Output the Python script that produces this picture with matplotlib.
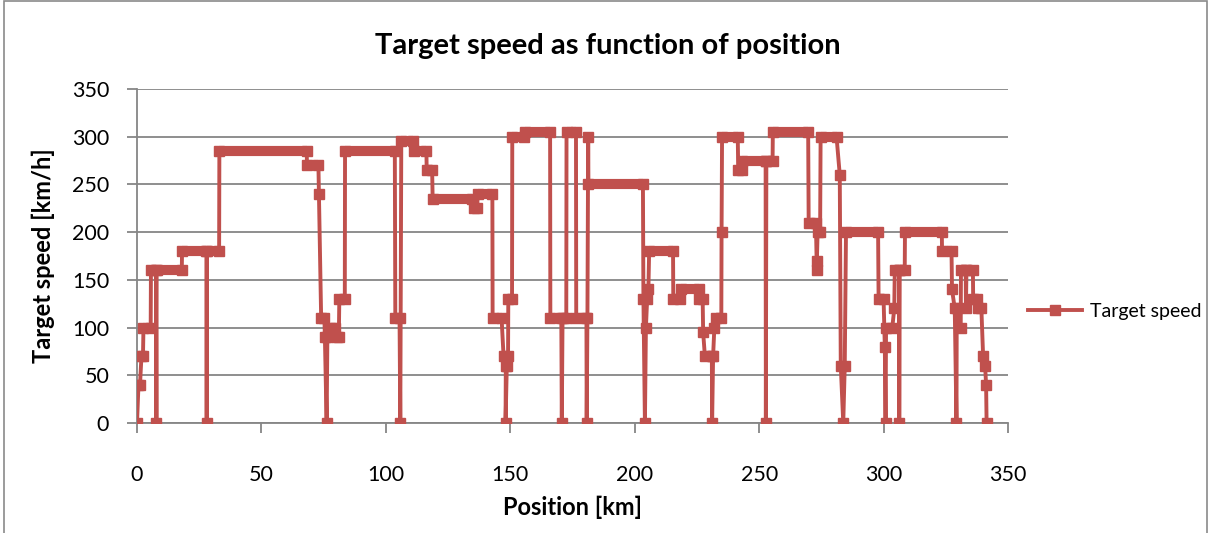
import numpy as np
import matplotlib
matplotlib.use("Agg")
import matplotlib.pyplot as plt
from matplotlib.patches import Rectangle

# Target speed profile (position in km, speed in km/h)
position_km = [
    0, 0.6, 1.2, 1.8, 2.4, 2.6, 5.5, 5.6, 7.6, 7.8, 7.9, 18, 18.1, 27.9, 28, 28.1, 33, 33.1,
    68.2, 68.3, 72.9, 73.1, 74, 75.3, 75.5, 76.2, 76.5, 78, 79.5, 80.5, 81.1, 81.3, 83.5, 83.6,
    103.6, 103.8, 105.5, 105.8, 106.2, 111.1, 111.2, 116.3, 116.4, 118.6, 118.8, 134.8, 135.6,
    136.6, 137, 142.8, 142.9, 146.5, 147.3, 148.2, 148.1, 148.6, 149.1, 149.2, 150.7, 150.8,
    155.6, 155.8, 166, 166.1, 170.5, 170.7, 171, 172.5, 172.6, 176.4, 176.5, 180.6, 180.7, 181,
    181.3, 181.4, 203.3, 203.5, 204.1, 204.5, 205, 205.5, 205.8, 215.4, 215.5, 218.2, 218.4,
    225.7, 226, 227.3, 227.5, 228.2, 231, 231.1, 231.5, 232, 232.8, 234.8, 234.9, 235.1, 241.4,
    241.6, 243, 243.2, 252.6, 252.7, 252.9, 255.4, 255.5, 269.7, 269.9, 272.8, 273.1, 273.1,
    273.5, 274.5, 274.7, 281.1, 282.4, 282.8, 283.8, 284.4, 284.9, 297.8, 298, 300, 300.5,
    300.8, 301, 303.5, 304.3, 304.5, 306.2, 306.3, 306.5, 308.5, 308.6, 323.4, 323.5, 327.3,
    327.5, 328.6, 329.3, 329.4, 331, 331.1, 333, 333.1, 333.3, 335.9, 336, 337.5, 337.8, 339.3,
    340, 340.8, 341.2, 341.4,
]
speed_kmh = [
    0, 40, 40, 70, 70, 100, 100, 160, 160, 0, 160, 160, 180, 180, 0, 180, 180, 285,
    285, 270, 270, 240, 110, 110, 90, 0, 90, 100, 100, 90, 90, 130, 130, 285,
    285, 110, 110, 0, 295, 295, 285, 285, 265, 265, 235, 235, 225,
    225, 240, 240, 110, 110, 70, 60, 0, 60, 70, 130, 130, 300,
    300, 305, 305, 110, 110, 0, 110, 110, 305, 305, 110, 110, 0, 110,
    300, 250, 250, 130, 0, 100, 130, 140, 180, 180, 130, 130, 140,
    140, 130, 130, 95, 70, 70, 0, 70, 100, 110, 110, 200, 300, 300,
    265, 265, 275, 275, 0, 275, 275, 305, 305, 210, 210, 170, 160,
    200, 200, 300, 300, 260, 60, 0, 60, 200, 200, 130, 130, 80,
    0, 100, 100, 120, 160, 160, 0, 160, 160, 200, 200, 180, 180,
    140, 120, 0, 120, 100, 160, 160, 120, 160, 160, 130, 130, 120, 120,
    70, 60, 40, 0,
]

x_ticks = [0, 50, 100, 150, 200, 250, 300, 350]
y_ticks = [0, 50, 100, 150, 200, 250, 300, 350]

red = "#C0504D"
grey = "#868686"
plt.rcParams["font.family"] = ["Lato", "DejaVu Sans"]

fig = plt.figure(figsize=(12.09, 5.33), dpi=100)
ax = fig.add_axes([137 / 1209, 1 - 423 / 533, (1008 - 137) / 1209, (423 - 89) / 533])

# chart area border (Excel style)
fig.patches.append(Rectangle((0.003, -0.1), 0.995, 1.098, transform=fig.transFigure,
                             fill=False, edgecolor="#8a8a8a", lw=1.2))

pos = np.array(position_km, dtype=float)
spd = np.array(speed_kmh, dtype=float)

# plateaus look thick in the original (markers packed along them)
flat = np.flatnonzero(spd[1:] == spd[:-1])
nan = np.full(len(flat), np.nan)
hx = np.column_stack([pos[flat], pos[flat + 1], nan]).ravel()
hy = np.column_stack([spd[flat], spd[flat + 1], nan]).ravel()
ax.plot(hx, hy, color=red, lw=7.3, solid_capstyle="butt", zorder=3)
ax.plot(pos, spd, color=red, lw=2.8, marker="s", ms=7.3, label="Target speed", zorder=4)

ax.set_xlim(0, 350)
ax.set_ylim(0, 350)
ax.set_xticks(x_ticks)
ax.set_yticks(y_ticks)
ax.yaxis.grid(True, color=grey, lw=1.3)
ax.set_axisbelow(True)
for s in ["top", "right"]:
    ax.spines[s].set_visible(False)
for s in ["left", "bottom"]:
    ax.spines[s].set_color(grey)
    ax.spines[s].set_linewidth(1.3)
ax.tick_params(axis="x", direction="out", length=7, width=1.3, color=grey, pad=23, labelsize=15.5)
ax.tick_params(axis="y", direction="out", length=7, width=1.3, color=grey, pad=13, labelsize=15.5)

ax.set_xlabel("Position [km]", fontsize=17, fontweight="bold", labelpad=8)
ax.set_ylabel("Target speed [km/h]", fontsize=17, fontweight="bold", labelpad=12)
fig.text(0.503, 1 - 46 / 533, "Target speed as function of position",
         ha="center", va="center", fontsize=21, fontweight="bold")

ax.legend(loc="center left", bbox_to_anchor=(1.0225, 0.335), frameon=False, fontsize=14,
          handlelength=2.8, numpoints=1, borderaxespad=0, borderpad=0, handletextpad=0.4)

fig.savefig("out.png", dpi=100)
